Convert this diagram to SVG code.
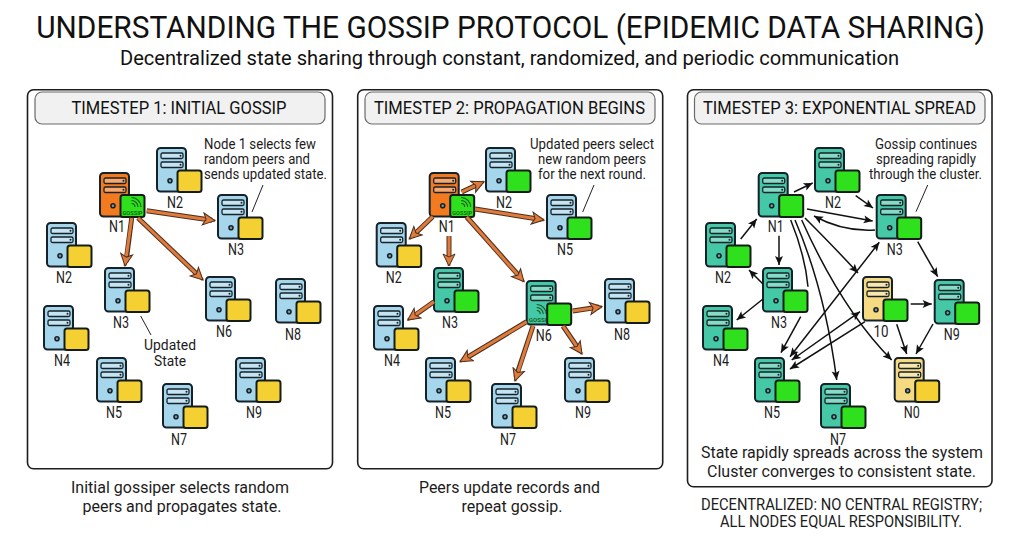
<svg xmlns="http://www.w3.org/2000/svg" width="1010" height="536" viewBox="0 0 1010 536">
<style>
text{font-family:Roboto,"Liberation Sans",sans-serif;fill:#1c1c1c;text-anchor:middle}
.title{font-size:31px;fill:#111}
.sub{font-size:20px;fill:#111}
.head{font-size:17.5px;fill:#111}
.note{font-size:14px}
.cap{font-size:17px}
.dec{font-size:16.5px}
.lab{font-size:16.5px}
.gs{font-size:5.6px;fill:#14691c;font-weight:700}
.panel{fill:#fff;stroke:#1d1d1d;stroke-width:1.6}
.hdr{fill:#f1f1f1;stroke:#6a6a6a;stroke-width:1.2}
.body{stroke:#16222a;stroke-width:2}
.slot{fill:#fff;fill-opacity:.35;stroke:#16222a;stroke-width:1.3}
.pin{fill:#16222a}
.dot{fill:#8a9aa0;stroke:#16222a;stroke-width:1.6}
.blue{fill:#a6d6ec}
.orange{fill:#f47a20}
.teal{fill:#45c8a5}
.ybody{fill:#f6da82}
.sq{stroke:#141c18;stroke-width:2}
.g{fill:#2fe01c}
.y{fill:#f5d033}
.wifi{fill:none;stroke:#14571c;stroke-width:1.1}
.call{fill:none;stroke:#222;stroke-width:1}
.ou{fill:none;stroke:#4a3020;stroke-width:5}
.oa{fill:none;stroke:#e07b3c;stroke-width:3;marker-end:url(#ah)}
.bk{fill:none;stroke:#111;stroke-width:1.5;marker-end:url(#bh)}
.bd{marker-start:url(#bh)}
.bn{fill:none;stroke:#111;stroke-width:1.5}
</style>
<defs>
<marker id="ah" markerUnits="userSpaceOnUse" markerWidth="18" markerHeight="18" refX="13" refY="9" orient="auto"><path d="M1,3 L13,9 L1,15 L4,9Z" fill="#e07b3c" stroke="#4a3020" stroke-width="1"/></marker>
<marker id="bh" markerUnits="userSpaceOnUse" markerWidth="12" markerHeight="12" refX="10" refY="6" orient="auto-start-reverse"><path d="M1,2 L10,6 L1,10 L3,6Z" fill="#111"/></marker>
<g id="srv"><rect class="body" width="29" height="43.5" rx="3.5"/><rect class="slot" x="4" y="5" width="22" height="5.5" rx="1.5"/><rect class="slot" x="4" y="14" width="22" height="5.5" rx="1.5"/><circle class="pin" cx="23.5" cy="7.7" r="1"/><circle class="pin" cx="23.5" cy="16.7" r="1"/></g>
<g id="srvd"><use href="#srv"/><circle class="dot" cx="13" cy="32.7" r="2"/></g>
<path id="wf" d="M0,-3.5 A3.5,3.5 0 0 1 3.5,0 M0,-6.5 A6.5,6.5 0 0 1 6.5,0 M0,-9.5 A9.5,9.5 0 0 1 9.5,0"/>
</defs>
<rect width="1010" height="536" fill="#fff"/>
<text class="title" transform="translate(510.500,38) scale(.9,1)" x="0" y="0" textLength="1054" lengthAdjust="spacingAndGlyphs">UNDERSTANDING THE GOSSIP PROTOCOL (EPIDEMIC DATA SHARING)</text>
<text class="sub" x="509.500" y="65" textLength="779" lengthAdjust="spacingAndGlyphs">Decentralized state sharing through constant, randomized, and periodic communication</text>

<g id="panel1">
<rect class="panel" x="27.500" y="89.700" width="305" height="379" rx="6"/>
<rect class="hdr" x="35" y="92" width="290" height="32" rx="7"/>
<text class="head" x="179" y="114" textLength="215" lengthAdjust="spacingAndGlyphs">TIMESTEP 1: INITIAL GOSSIP</text>
<text class="note" x="260" y="149" textLength="112" lengthAdjust="spacingAndGlyphs">Node 1 selects few</text>
<text class="note" x="257" y="164" textLength="106" lengthAdjust="spacingAndGlyphs">random peers and</text>
<text class="note" x="265.500" y="179" textLength="123" lengthAdjust="spacingAndGlyphs">sends updated state.</text>
<text class="note" x="170" y="350" textLength="52" lengthAdjust="spacingAndGlyphs">Updated</text>
<text class="note" x="170" y="366" textLength="32" lengthAdjust="spacingAndGlyphs">State</text>
<path class="call" d="M263,185 L252,212 M140.700,316 L151,335"/>
<text class="cap" x="180" y="493" textLength="218" lengthAdjust="spacingAndGlyphs">Initial gossiper selects random</text>
<text class="cap" x="182" y="512" textLength="199" lengthAdjust="spacingAndGlyphs">peers and propagates state.</text>
</g>
<g id="p1-n1" transform="translate(100,173)"><use href="#srvd" class="orange"/><rect class="sq g" x="20.500" y="22" width="24" height="22" rx="2.500"/><use href="#wf" class="wifi" x="31.500" y="34"/><text class="gs" x="32.500" y="41.500" textLength="20" lengthAdjust="spacingAndGlyphs">GOSSIP</text><text class="lab" x="17" y="59" textLength="16" lengthAdjust="spacingAndGlyphs">N1</text></g>
<g id="p1-n2a" transform="translate(157,148)"><use href="#srvd" class="blue"/><rect class="sq y" x="20.500" y="22.500" width="24" height="21.500" rx="2.500"/><text class="lab" x="18" y="60" textLength="16" lengthAdjust="spacingAndGlyphs">N2</text></g>
<g id="p1-n3a" transform="translate(218,195)"><use href="#srvd" class="blue"/><rect class="sq y" x="20.500" y="22.500" width="24" height="21.500" rx="2.500"/><text class="lab" x="18" y="60" textLength="16" lengthAdjust="spacingAndGlyphs">N3</text></g>
<g id="p1-n2b" transform="translate(47,223)"><use href="#srvd" class="blue"/><rect class="sq y" x="20.500" y="22.500" width="24" height="21.500" rx="2.500"/><text class="lab" x="17" y="60" textLength="16" lengthAdjust="spacingAndGlyphs">N2</text></g>
<g id="p1-n3b" transform="translate(105,268)"><use href="#srvd" class="blue"/><rect class="sq y" x="20.500" y="22.500" width="24" height="21.500" rx="2.500"/><text class="lab" x="16" y="60" textLength="16" lengthAdjust="spacingAndGlyphs">N3</text></g>
<g id="p1-n6" transform="translate(206,277)"><use href="#srvd" class="blue"/><rect class="sq y" x="20.500" y="22.500" width="24" height="21.500" rx="2.500"/><text class="lab" x="18" y="60" textLength="16" lengthAdjust="spacingAndGlyphs">N6</text></g>
<g id="p1-n8" transform="translate(276,279)"><use href="#srvd" class="blue"/><rect class="sq y" x="20.500" y="22.500" width="24" height="21.500" rx="2.500"/><text class="lab" x="17" y="61" textLength="16" lengthAdjust="spacingAndGlyphs">N8</text></g>
<g id="p1-n4" transform="translate(44,306)"><use href="#srvd" class="blue"/><rect class="sq y" x="20.500" y="22.500" width="24" height="21.500" rx="2.500"/><text class="lab" x="18" y="60" textLength="16" lengthAdjust="spacingAndGlyphs">N4</text></g>
<g id="p1-n5" transform="translate(97,358)"><use href="#srvd" class="blue"/><rect class="sq y" x="20.500" y="22.500" width="24" height="21.500" rx="2.500"/><text class="lab" x="17" y="60" textLength="16" lengthAdjust="spacingAndGlyphs">N5</text></g>
<g id="p1-n7" transform="translate(163,384)"><use href="#srvd" class="blue"/><rect class="sq y" x="20.500" y="22.500" width="24" height="21.500" rx="2.500"/><text class="lab" x="16" y="61" textLength="16" lengthAdjust="spacingAndGlyphs">N7</text></g>
<g id="p1-n9" transform="translate(236,358)"><use href="#srvd" class="blue"/><rect class="sq y" x="20.500" y="22.500" width="24" height="21.500" rx="2.500"/><text class="lab" x="18" y="60" textLength="16" lengthAdjust="spacingAndGlyphs">N9</text></g>

<g id="panel2">
<rect class="panel" x="357.700" y="89.700" width="305" height="379" rx="6"/>
<rect class="hdr" x="365" y="92" width="290" height="32" rx="7"/>
<text class="head" x="509.500" y="114" textLength="271" lengthAdjust="spacingAndGlyphs">TIMESTEP 2: PROPAGATION BEGINS</text>
<text class="note" x="592" y="149" textLength="124" lengthAdjust="spacingAndGlyphs">Updated peers select</text>
<text class="note" x="592" y="164" textLength="108" lengthAdjust="spacingAndGlyphs">new random peers</text>
<text class="note" x="592" y="179" textLength="108" lengthAdjust="spacingAndGlyphs">for the next round.</text>
<path class="call" d="M594,185 L582.700,212"/>
<text class="cap" x="509.500" y="493" textLength="181" lengthAdjust="spacingAndGlyphs">Peers update records and</text>
<text class="cap" x="512" y="512" textLength="101" lengthAdjust="spacingAndGlyphs">repeat gossip.</text>
</g>
<g id="p2-n1" transform="translate(429.700,173)"><use href="#srvd" class="orange"/><rect class="sq g" x="20.500" y="22" width="24" height="22" rx="2.500"/><use href="#wf" class="wifi" x="31.500" y="34"/><text class="gs" x="32.500" y="41.500" textLength="20" lengthAdjust="spacingAndGlyphs">GOSSIP</text><text class="lab" x="17" y="59" textLength="16" lengthAdjust="spacingAndGlyphs">N1</text></g>
<g id="p2-n2a" transform="translate(486,148)"><use href="#srvd" class="blue"/><rect class="sq g" x="20.500" y="22.500" width="24" height="21.500" rx="2.500"/><text class="lab" x="18" y="60" textLength="16" lengthAdjust="spacingAndGlyphs">N2</text></g>
<g id="p2-n5a" transform="translate(547,195)"><use href="#srvd" class="blue"/><rect class="sq g" x="20.500" y="22.500" width="24" height="21.500" rx="2.500"/><text class="lab" x="18" y="60" textLength="16" lengthAdjust="spacingAndGlyphs">N5</text></g>
<g id="p2-n2b" transform="translate(376.700,223)"><use href="#srvd" class="blue"/><rect class="sq y" x="20.500" y="22.500" width="24" height="21.500" rx="2.500"/><text class="lab" x="17" y="60" textLength="16" lengthAdjust="spacingAndGlyphs">N2</text></g>
<g id="p2-n3" transform="translate(434,268)"><use href="#srvd" class="teal"/><rect class="sq g" x="20.500" y="22.500" width="24" height="21.500" rx="2.500"/><text class="lab" x="16" y="60" textLength="16" lengthAdjust="spacingAndGlyphs">N3</text></g>
<g id="p2-n6" transform="translate(526.700,281)"><use href="#srv" class="teal"/><use href="#wf" class="wifi" x="10" y="33"/><text class="gs" x="13" y="41" textLength="22" lengthAdjust="spacingAndGlyphs">GOSSIP</text><rect class="sq g" x="20.500" y="22.500" width="24" height="21.500" rx="2.500"/><text class="lab" x="17" y="60" textLength="16" lengthAdjust="spacingAndGlyphs">N6</text></g>
<g id="p2-n8" transform="translate(605,279)"><use href="#srvd" class="blue"/><rect class="sq y" x="20.500" y="22.500" width="24" height="21.500" rx="2.500"/><text class="lab" x="17" y="61" textLength="16" lengthAdjust="spacingAndGlyphs">N8</text></g>
<g id="p2-n4" transform="translate(374,306)"><use href="#srvd" class="blue"/><rect class="sq y" x="20.500" y="22.500" width="24" height="21.500" rx="2.500"/><text class="lab" x="18" y="60" textLength="16" lengthAdjust="spacingAndGlyphs">N4</text></g>
<g id="p2-n5b" transform="translate(426,358)"><use href="#srvd" class="blue"/><rect class="sq y" x="20.500" y="22.500" width="24" height="21.500" rx="2.500"/><text class="lab" x="17" y="60" textLength="16" lengthAdjust="spacingAndGlyphs">N5</text></g>
<g id="p2-n7" transform="translate(492,384)"><use href="#srvd" class="blue"/><rect class="sq y" x="20.500" y="22.500" width="24" height="21.500" rx="2.500"/><text class="lab" x="16" y="61" textLength="16" lengthAdjust="spacingAndGlyphs">N7</text></g>
<g id="p2-n9" transform="translate(565,358)"><use href="#srvd" class="blue"/><rect class="sq y" x="20.500" y="22.500" width="24" height="21.500" rx="2.500"/><text class="lab" x="18" y="60" textLength="16" lengthAdjust="spacingAndGlyphs">N9</text></g>

<g id="panel3">
<rect class="panel" x="687.500" y="89.700" width="304.500" height="397" rx="6"/>
<rect class="hdr" x="694.500" y="92" width="290.500" height="32" rx="7"/>
<text class="head" x="839.500" y="114" textLength="273" lengthAdjust="spacingAndGlyphs">TIMESTEP 3: EXPONENTIAL SPREAD</text>
<text class="note" x="926" y="149" textLength="102" lengthAdjust="spacingAndGlyphs">Gossip continues</text>
<text class="note" x="926" y="164" textLength="100" lengthAdjust="spacingAndGlyphs">spreading rapidly</text>
<text class="note" x="925.500" y="179" textLength="113" lengthAdjust="spacingAndGlyphs">through the cluster.</text>
<path class="call" d="M927.700,185 L916,211.700"/>
<text class="cap" x="842" y="458" textLength="282" lengthAdjust="spacingAndGlyphs">State rapidly spreads across the system</text>
<text class="cap" x="841.500" y="477" textLength="269" lengthAdjust="spacingAndGlyphs">Cluster converges to consistent state.</text>
<text class="dec" transform="translate(841.500,510) scale(.85,1)" x="0" y="0" textLength="330.600" lengthAdjust="spacingAndGlyphs">DECENTRALIZED: NO CENTRAL REGISTRY;</text>
<text class="dec" transform="translate(841,527) scale(.85,1)" x="0" y="0" textLength="284.700" lengthAdjust="spacingAndGlyphs">ALL NODES EQUAL RESPONSIBILITY.</text>
</g>
<g id="p3-n1" transform="translate(758.700,173)"><use href="#srvd" class="teal"/><rect class="sq g" x="20.500" y="22" width="24" height="22" rx="2.500"/><text class="lab" x="17" y="59" textLength="16" lengthAdjust="spacingAndGlyphs">N1</text></g>
<g id="p3-n2a" transform="translate(815,148)"><use href="#srvd" class="teal"/><rect class="sq g" x="20.500" y="22.500" width="24" height="21.500" rx="2.500"/><text class="lab" x="18" y="60" textLength="16" lengthAdjust="spacingAndGlyphs">N2</text></g>
<g id="p3-n3a" transform="translate(876.700,195)"><use href="#srvd" class="teal"/><rect class="sq g" x="20.500" y="22.500" width="24" height="21.500" rx="2.500"/><text class="lab" x="18" y="60" textLength="16" lengthAdjust="spacingAndGlyphs">N3</text></g>
<g id="p3-n2b" transform="translate(706,223)"><use href="#srvd" class="teal"/><rect class="sq g" x="20.500" y="22.500" width="24" height="21.500" rx="2.500"/><text class="lab" x="17" y="60" textLength="16" lengthAdjust="spacingAndGlyphs">N2</text></g>
<g id="p3-n3b" transform="translate(763,268)"><use href="#srvd" class="teal"/><rect class="sq g" x="20.500" y="22.500" width="24" height="21.500" rx="2.500"/><text class="lab" x="16" y="60" textLength="16" lengthAdjust="spacingAndGlyphs">N3</text></g>
<g id="p3-n10" transform="translate(863,277)"><use href="#srvd" class="ybody"/><rect class="sq g" x="20.500" y="22.500" width="24" height="21.500" rx="2.500"/><text class="lab" x="18" y="60" textLength="15" lengthAdjust="spacingAndGlyphs">10</text></g>
<g id="p3-n9" transform="translate(934.700,280)"><use href="#srvd" class="teal"/><rect class="sq g" x="20.500" y="22.500" width="24" height="21.500" rx="2.500"/><text class="lab" x="17" y="60" textLength="16" lengthAdjust="spacingAndGlyphs">N9</text></g>
<g id="p3-n4" transform="translate(703,306)"><use href="#srvd" class="teal"/><rect class="sq g" x="20.500" y="22.500" width="24" height="21.500" rx="2.500"/><text class="lab" x="18" y="60" textLength="16" lengthAdjust="spacingAndGlyphs">N4</text></g>
<g id="p3-n5" transform="translate(755,358)"><use href="#srvd" class="teal"/><rect class="sq g" x="20.500" y="22.500" width="24" height="21.500" rx="2.500"/><text class="lab" x="17" y="60" textLength="16" lengthAdjust="spacingAndGlyphs">N5</text></g>
<g id="p3-n7" transform="translate(821,384)"><use href="#srvd" class="teal"/><rect class="sq g" x="20.500" y="22.500" width="24" height="21.500" rx="2.500"/><text class="lab" x="17" y="61" textLength="16" lengthAdjust="spacingAndGlyphs">N7</text></g>
<g id="p3-n0" transform="translate(894.700,358)"><use href="#srvd" class="ybody"/><rect class="sq y" x="20.500" y="22.500" width="24" height="21.500" rx="2.500"/><text class="lab" x="17" y="60" textLength="16" lengthAdjust="spacingAndGlyphs">N0</text></g>

<g id="connectors">
<path class="ou" d="M146.700,210.700 L212,220.300"/><path class="oa" d="M146.700,210.700 L215,220.700"/>
<path class="ou" d="M131.700,218 L126,262"/><path class="oa" d="M131.700,218 L125,266"/>
<path class="ou" d="M138,218 L200,277"/><path class="oa" d="M138,218 L203,280"/>
<path class="ou" d="M461.700,192 L481,183"/><path class="oa" d="M461.700,192 L484,181.700"/>
<path class="ou" d="M475,209 L541,219.500"/><path class="oa" d="M475,209 L544,220"/>
<path class="ou" d="M432.700,216.700 L412,236.500"/><path class="oa" d="M432.700,216.700 L409.300,239"/>
<path class="ou" d="M449,236 L449,262"/><path class="oa" d="M449,236 L449,266"/>
<path class="ou" d="M466.700,217 L521,278"/><path class="oa" d="M466.700,217 L524,281.700"/>
<path class="ou" d="M434,301.700 L411,318"/><path class="oa" d="M434,301.700 L407.700,320"/>
<path class="ou" d="M526.700,321.700 L463,360"/><path class="oa" d="M526.700,321.700 L460,361.700"/>
<path class="ou" d="M533,326 L516,377"/><path class="oa" d="M533,326 L515,381"/>
<path class="ou" d="M563,326 L580,351"/><path class="oa" d="M563,326 L582,354"/>
<path class="ou" d="M572.700,311 L599,307"/><path class="oa" d="M572.700,311 L602,306.700"/>
<path class="bk" d="M794,192 L812.700,183"/>
<path class="bk" d="M855.700,195.700 L873,208"/>
<path class="bk" d="M807,209 L872.700,221"/>
<path class="bk" d="M875,230 Q843,232 814,216"/>
<path class="bk" d="M740.700,239 L756.700,219"/>
<path class="bk" d="M779,235.700 L779,265"/>
<path class="bk" d="M763,284 L749,270"/>
<path class="bk" d="M763,299 L736.700,320"/>
<path class="bk" d="M800.700,316.700 L781,352.700"/>
<path class="bn" d="M790.700,220 Q805,255 808,286.700"/>
<path class="bk" d="M795,220 Q825,290 836.700,380"/>
<path class="bk" d="M801.700,220 Q842,310 891.700,360"/>
<path class="bk" d="M805,218 Q835,248 858,273"/>
<path class="bk bd" d="M790,356.700 L879.300,242.300"/>
<path class="bk bd" d="M791.700,360 L860,311.700"/>
<path class="bk" d="M865,321.700 L790,369"/>
<path class="bk" d="M910.700,304 L931.700,304"/>
<path class="bk" d="M896.700,324.300 L906.700,354"/>
<path class="bk" d="M933,324 L916,354"/>
<path class="bk" d="M917.700,241.700 L937.700,276.700"/>
</g>
</svg>
